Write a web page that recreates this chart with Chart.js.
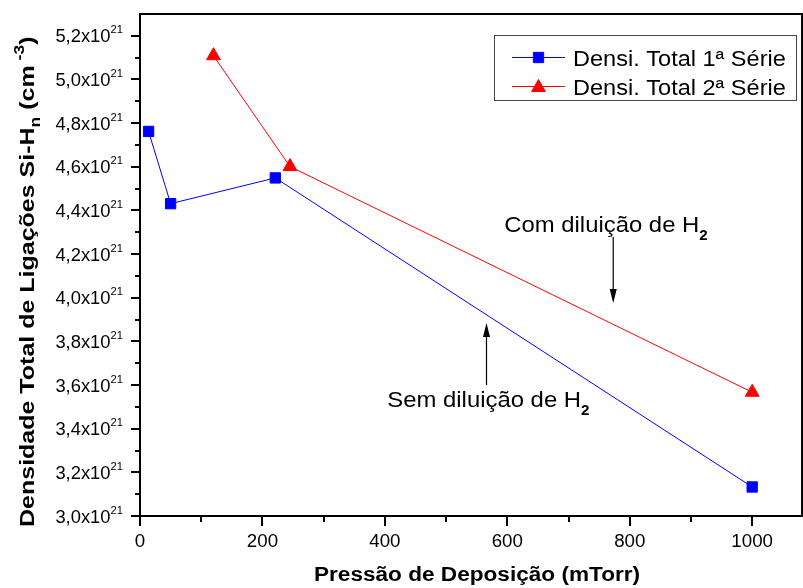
<!DOCTYPE html>
<html>
<head>
<meta charset="utf-8">
<script src="https://cdn.jsdelivr.net/npm/chart.js@4/dist/chart.umd.min.js"></script>
<style>
  html, body { margin: 0; padding: 0; background: #ffffff; }
  #wrap { width: 803px; height: 588px; }
</style>
</head>
<body>
<div id="wrap"><canvas id="c" width="803" height="588"></canvas></div>
<script>
// Deposition pressure (mTorr) and total Si-Hn bond density (x10^21 cm^-3)
const pressure1 = [14, 50, 221, 1000];
const density1  = [4.762, 4.431, 4.549, 3.133];
const pressure2 = [120, 245, 1000];
const density2  = [5.109, 4.601, 3.567];

const seriesNames = ['Densi. Total 1ª Série', 'Densi. Total 2ª Série'];
const xTickValues = [0, 200, 400, 600, 800, 1000];
const xMinorValues = [100, 300, 500, 700, 900];
const yTickValues = [3.0, 3.2, 3.4, 3.6, 3.8, 4.0, 4.2, 4.4, 4.6, 4.8, 5.0, 5.2];
const yMinorValues = [3.1, 3.3, 3.5, 3.7, 3.9, 4.1, 4.3, 4.5, 4.7, 4.9, 5.1];
const yTickLabels = yTickValues.map(v => v.toFixed(1).replace('.', ','));
const xTitle = 'Pressão de Deposição (mTorr)';
const notes = ['Com diluição de H', 'Sem diluição de H'];

const FONT = '"Liberation Sans", Arial, Helvetica, sans-serif';
const BLUE = '#0000ff';
const RED = '#ff0000';

// Draw a sequence of text runs (each with its own font and vertical shift)
function drawRuns(ctx, runs, x, y, opt) {
  opt = opt || {};
  const sx = opt.sx || 1;
  ctx.save();
  let total = 0;
  const widths = runs.map(r => { ctx.font = r.font; const w = ctx.measureText(r.t).width; total += w; return w; });
  ctx.translate(x, y);
  if (opt.rot) ctx.rotate(opt.rot);
  ctx.scale(sx, 1);
  let cx = 0;
  if (opt.align === 'right') cx = -total;
  else if (opt.align === 'center') cx = -total / 2;
  ctx.fillStyle = opt.color || '#000';
  ctx.textBaseline = 'alphabetic';
  ctx.textAlign = 'left';
  runs.forEach((r, i) => {
    ctx.font = r.font;
    ctx.fillText(r.t, cx, r.dy || 0);
    cx += widths[i];
  });
  ctx.restore();
  return total * sx;
}

function arrow(ctx, x, y0, y1) {
  // shaft from y0 to the tip at y1
  const dir = Math.sign(y1 - y0);
  const head = 14, half = 3.5;
  ctx.save();
  ctx.strokeStyle = '#000';
  ctx.fillStyle = '#000';
  ctx.lineWidth = 1.2;
  ctx.beginPath();
  ctx.moveTo(x, y0);
  ctx.lineTo(x, y1 - dir * head);
  ctx.stroke();
  ctx.beginPath();
  ctx.moveTo(x, y1);
  ctx.lineTo(x - half, y1 - dir * head);
  ctx.lineTo(x + half, y1 - dir * head);
  ctx.closePath();
  ctx.fill();
  ctx.restore();
}

const framePlugin = {
  id: 'frame',
  afterDraw(chart) {
    const ctx = chart.ctx;
    const xs = chart.scales.x, ys = chart.scales.y;
    const a = chart.chartArea;
    ctx.save();
    ctx.strokeStyle = '#000';
    ctx.lineWidth = 2;
    ctx.strokeRect(a.left, a.top, a.right - a.left - 1, a.bottom - a.top);

    // tick marks
    ctx.beginPath();
    yTickValues.forEach(v => { const p = Math.round(ys.getPixelForValue(v)); ctx.moveTo(a.left - 9, p); ctx.lineTo(a.left, p); });
    yMinorValues.forEach(v => { const p = Math.round(ys.getPixelForValue(v)); ctx.moveTo(a.left - 5, p); ctx.lineTo(a.left, p); });
    xTickValues.forEach(v => { const p = Math.round(xs.getPixelForValue(v)); ctx.moveTo(p, a.bottom); ctx.lineTo(p, a.bottom + 10); });
    xMinorValues.forEach(v => { const p = Math.round(xs.getPixelForValue(v)); ctx.moveTo(p, a.bottom); ctx.lineTo(p, a.bottom + 6); });
    ctx.stroke();
    ctx.restore();

    // y tick labels  n,nx10^21
    yTickValues.forEach((v, i) => {
      const p = ys.getPixelForValue(v);
      drawRuns(ctx, [
        { t: yTickLabels[i] + 'x10', font: '18px ' + FONT },
        { t: '21', font: '11px ' + FONT, dy: -9 }
      ], 123, p + 6.5, { align: 'right', sx: 1.02 });
    });
    // x tick labels
    xTickValues.forEach(v => {
      const p = xs.getPixelForValue(v);
      drawRuns(ctx, [{ t: String(v), font: '18px ' + FONT }], p, a.bottom + 31, { align: 'center', sx: 1.04 });
    });

    // axis titles
    drawRuns(ctx, [{ t: xTitle, font: 'bold 20px ' + FONT }], 477, 581, { align: 'center', sx: 1.13 });
    drawRuns(ctx, [
      { t: 'Densidade Total de Ligações Si-H', font: 'bold 20px ' + FONT },
      { t: 'n', font: 'bold 14px ' + FONT, dy: 6 },
      { t: ' (cm', font: 'bold 20px ' + FONT },
      { t: ' -3', font: 'bold 14px ' + FONT, dy: -10 },
      { t: ')', font: 'bold 20px ' + FONT }
    ], 33.5, 527, { rot: -Math.PI / 2, sx: 1.25 });

    // annotations with arrows (placed in data coordinates)
    drawRuns(ctx, [
      { t: notes[0], font: '22px ' + FONT },
      { t: '2', font: 'bold 14px ' + FONT, dy: 8 }
    ], xs.getPixelForValue(595), ys.getPixelForValue(4.300), { sx: 1.085 });
    arrow(ctx, xs.getPixelForValue(773), ys.getPixelForValue(4.278), ys.getPixelForValue(3.976));
    drawRuns(ctx, [
      { t: notes[1], font: '22px ' + FONT },
      { t: '2', font: 'bold 14px ' + FONT, dy: 8 }
    ], xs.getPixelForValue(404), ys.getPixelForValue(3.499), { sx: 1.085 });
    arrow(ctx, xs.getPixelForValue(566), ys.getPixelForValue(3.600), ys.getPixelForValue(3.884));

    // legend
    ctx.save();
    ctx.strokeStyle = '#444';
    ctx.lineWidth = 1;
    ctx.strokeRect(494.5, 35.5, 302, 65);
    const rows = [57.5, 86.5];
    chart.data.datasets.forEach((ds, i) => {
      const y = rows[i];
      ctx.strokeStyle = ds.borderColor;
      ctx.lineWidth = 1;
      ctx.beginPath(); ctx.moveTo(512, y); ctx.lineTo(565, y); ctx.stroke();
      ctx.fillStyle = ds.backgroundColor;
      Chart.helpers.drawPoint(ctx, {
        pointStyle: ds.pointStyle, radius: ds.pointRadius, borderWidth: 1, rotation: 0
      }, 538.5, y + (ds.pointStyle === 'triangle' ? 1 : 0));
      drawRuns(ctx, [{ t: seriesNames[i], font: '22px ' + FONT }], 573, y + 8, { sx: 1.07 });
    });
    ctx.restore();
  }
};

new Chart(document.getElementById('c'), {
  type: 'scatter',
  data: {
    datasets: [
      {
        label: seriesNames[0],
        data: pressure1.map((p, i) => ({ x: p, y: density1[i] })),
        showLine: true,
        borderColor: BLUE,
        backgroundColor: BLUE,
        borderWidth: 1,
        pointStyle: 'rect',
        pointRadius: 7.3,
        pointBorderWidth: 1,
        pointBorderColor: BLUE,
        pointBackgroundColor: BLUE,
        clip: false
      },
      {
        label: seriesNames[1],
        data: pressure2.map((p, i) => ({ x: p, y: density2[i] })),
        showLine: true,
        borderColor: RED,
        backgroundColor: RED,
        borderWidth: 1,
        pointStyle: 'triangle',
        pointRadius: 8,
        pointBorderWidth: 1,
        pointBorderColor: RED,
        pointBackgroundColor: RED,
        clip: false
      }
    ]
  },
  options: {
    responsive: false,
    animation: false,
    devicePixelRatio: 1,
    layout: { autoPadding: false, padding: { top: 14, right: 0, left: 0, bottom: 0 } },
    plugins: { legend: { display: false }, tooltip: { enabled: false }, title: { display: false } },
    scales: {
      x: {
        type: 'linear', min: 0, max: 1083,
        ticks: { display: false }, grid: { display: false }, border: { display: false },
        afterFit(s) { s.height = 72; }
      },
      y: {
        type: 'linear', min: 3.0, max: 5.3,
        ticks: { display: false }, grid: { display: false }, border: { display: false },
        afterFit(s) { s.width = 140; }
      }
    }
  },
  plugins: [framePlugin]
});
</script>
</body>
</html>
